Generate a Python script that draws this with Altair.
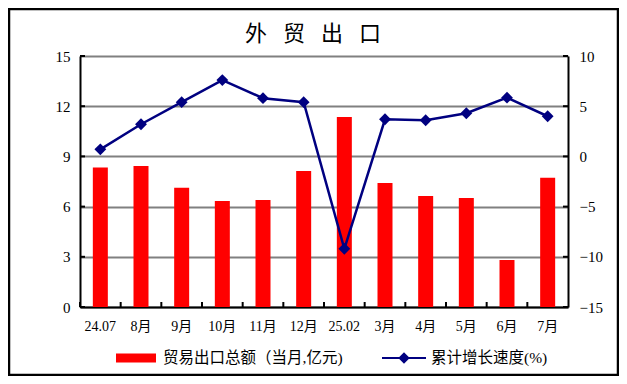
import altair as alt
import pandas as pd

categories = ["24.07", "8月", "9月", "10月", "11月", "12月", "25.02", "3月", "4月", "5月", "6月", "7月"]
export_values = [8.33, 8.43, 7.13, 6.34, 6.40, 8.13, 11.36, 7.41, 6.63, 6.51, 2.81, 7.72]
growth_values = [0.7, 3.2, 5.4, 7.6, 5.8, 5.4, -9.2, 3.7, 3.6, 4.3, 5.85, 4.0]
left_ticks = [0, 3, 6, 9, 12, 15]
right_ticks = [-15, -10, -5, 0, 5, 10]
title_text = ["外\u2002 贸\u2002 出\u2002 口"]

bar_name = "贸易出口总额（当月,亿元)"
line_name = "累计增长速度(%)"

df = pd.DataFrame({
    "cat": categories,
    "export": export_values,
    "growth": growth_values,
    "bar_series": [bar_name] * len(categories),
    "line_series": [line_name] * len(categories),
})
tick_df = pd.DataFrame({"v": left_ticks})
cat_df = pd.DataFrame({"cat": categories})
title_df = pd.DataFrame({"t": title_text})

W, H = 488, 251
LAT = "'Liberation Serif', 'Times New Roman', 'Noto Sans CJK SC', serif"

xscale = alt.Scale(domain=categories, paddingInner=0, paddingOuter=0)
x_axis = alt.Axis(labelAngle=0, labelFont=LAT, labelFontSize=14,
                  labelColor="black", ticks=False, labelPadding=12,
                  domainColor="black", domainWidth=2, title=None)
x_main = alt.X("cat:N", scale=xscale, sort=categories, axis=x_axis)
left_scale = alt.Scale(domain=[0, 15], nice=False, zero=False)
right_scale = alt.Scale(domain=[-15, 10], nice=False, zero=False)

bars = alt.Chart(df).mark_bar(size=15).encode(
    x=x_main,
    y=alt.Y("export:Q", scale=left_scale, title=None,
            axis=alt.Axis(values=left_ticks, orient="left", grid=True,
                          gridColor="#808080", gridWidth=2, ticks=False,
                          labelFont=LAT, labelFontSize=15, labelColor="black",
                          labelPadding=10, domainColor="black", domainWidth=2)),
    color=alt.Color("bar_series:N",
                    scale=alt.Scale(domain=[bar_name], range=["#ff0000"]),
                    legend=alt.Legend(title=None, orient="none", legendX=36, legendY=282,
                                      symbolType="M-1,-0.225H1V0.225H-1Z",
                                      symbolSize=1600, symbolStrokeWidth=0,
                                      labelOffset=7, labelFont=LAT, labelFontSize=15.5,
                                      labelColor="black", labelLimit=400, padding=0)),
)

line = alt.Chart(df).mark_line(color="#000080", strokeWidth=2.5).encode(
    x=x_main,
    y=alt.Y("growth:Q", scale=right_scale, title=None,
            axis=alt.Axis(values=right_ticks, orient="right", grid=False,
                          ticks=False, labelFont=LAT, labelFontSize=15,
                          labelColor="black", labelPadding=11,
                          domainColor="black", domainWidth=2)),
)

points = alt.Chart(df).mark_point(shape="diamond", filled=True, size=140, opacity=1).encode(
    x=x_main,
    y=alt.Y("growth:Q", scale=right_scale, axis=None),
    fill=alt.Fill("line_series:N",
                  scale=alt.Scale(domain=[line_name], range=["#000080"]),
                  legend=alt.Legend(title=None, orient="none", legendX=302, legendY=280,
                                    symbolType="M-1,-0.045H1V0.045H-1Z M0,-0.26L0.26,0L0,0.26L-0.26,0Z",
                                    symbolSize=1936, symbolStrokeWidth=0,
                                    labelOffset=5, labelFont=LAT, labelFontSize=15.5,
                                    labelColor="black", labelLimit=400, padding=0)),
)

left_in_ticks = alt.Chart(tick_df).mark_rule(color="black", strokeWidth=2).encode(
    y=alt.Y("v:Q", scale=left_scale, axis=None),
    x=alt.value(0), x2=alt.value(5),
)
right_in_ticks = alt.Chart(tick_df).mark_rule(color="black", strokeWidth=2).encode(
    y=alt.Y("v:Q", scale=left_scale, axis=None),
    x=alt.value(W - 5), x2=alt.value(W),
)
x_in_ticks = alt.Chart(cat_df).mark_rule(color="black", strokeWidth=2).encode(
    x=alt.X("cat:N", scale=xscale, sort=categories, axis=x_axis, bandPosition=0),
    y=alt.value(H - 5), y2=alt.value(H),
)

title_mark = alt.Chart(title_df).mark_text(
    font="Noto Sans CJK SC", fontSize=22, color="black", align="center", baseline="middle"
).encode(
    text="t:N", x=alt.value(233), y=alt.value(-22),
)

frame = alt.Chart(pd.DataFrame({"k": [0]})).mark_rect(
    fill="transparent", stroke="black", strokeWidth=2.5
).encode(
    x=alt.value(-71), x2=alt.value(538), y=alt.value(-47), y2=alt.value(319),
)

chart = alt.layer(
    bars, left_in_ticks, right_in_ticks, x_in_ticks, line, points, title_mark, frame
).resolve_scale(
    y="independent", color="independent"
).properties(
    width=W, height=H,
    autosize=alt.AutoSizeParams(type="none"),
    padding={"left": 72, "top": 48, "right": 51, "bottom": 69},
).configure_view(strokeWidth=0).configure(background="white")

chart.save("out.html", embed_options={"renderer": "svg", "actions": False})
